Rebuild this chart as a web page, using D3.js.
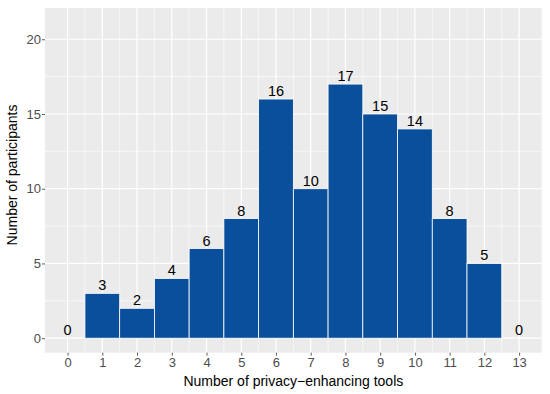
<!DOCTYPE html>
<html>
<head>
<meta charset="utf-8">
<script src="https://cdn.jsdelivr.net/npm/d3@7"></script>
<style>
  body { margin: 0; background: #fff; }
  text { font-family: "Liberation Sans", Arial, sans-serif; }
</style>
</head>
<body>
<div id="chart"></div>
<script>
var toolCounts = [0, 1, 2, 3, 4, 5, 6, 7, 8, 9, 10, 11, 12, 13];
var participants = [0, 3, 2, 4, 6, 8, 16, 10, 17, 15, 14, 8, 5, 0];
var yTicks = [0, 5, 10, 15, 20];
var yMinor = [2.5, 7.5, 12.5, 17.5];

var width = 550,
    height = 394,
    panel = {left: 45, right: 541.7, top: 8, bottom: 352.7};

var svg = d3.select("#chart").append("svg")
    .attr("width", width)
    .attr("height", height);

var x = d3.scaleLinear()
    .domain([-0.65, 13.65])
    .range([panel.left, panel.right]);

var y = d3.scaleLinear()
    .domain([-0.97, 22.09])
    .range([panel.bottom, panel.top]);

// panel background
svg.append("rect")
    .attr("x", panel.left)
    .attr("y", panel.top)
    .attr("width", panel.right - panel.left)
    .attr("height", panel.bottom - panel.top)
    .attr("fill", "#ebebeb");

// minor grid
svg.selectAll("line.ymin")
  .data(yMinor)
  .enter().append("line")
    .attr("x1", panel.left).attr("x2", panel.right)
    .attr("y1", function (d) { return y(d); })
    .attr("y2", function (d) { return y(d); })
    .style("stroke", "#fff").style("stroke-width", 0.6);

svg.selectAll("line.xmin")
  .data(toolCounts.slice(0, -1).map(function (d) { return d + 0.5; }))
  .enter().append("line")
    .attr("y1", panel.top).attr("y2", panel.bottom)
    .attr("x1", function (d) { return x(d); })
    .attr("x2", function (d) { return x(d); })
    .style("stroke", "#fff").style("stroke-width", 0.6);

// major grid
svg.selectAll("line.ymaj")
  .data(yTicks)
  .enter().append("line")
    .attr("x1", panel.left).attr("x2", panel.right)
    .attr("y1", function (d) { return y(d); })
    .attr("y2", function (d) { return y(d); })
    .style("stroke", "#fff").style("stroke-width", 1.2);

svg.selectAll("line.xmaj")
  .data(toolCounts)
  .enter().append("line")
    .attr("y1", panel.top).attr("y2", panel.bottom)
    .attr("x1", function (d) { return x(d); })
    .attr("x2", function (d) { return x(d); })
    .style("stroke", "#fff").style("stroke-width", 1.2);

// bars
svg.selectAll("rect.bar")
  .data(participants)
  .enter().append("rect")
    .attr("class", "bar")
    .attr("x", function (d, i) { return x(toolCounts[i] - 0.5); })
    .attr("width", function (d, i) { return x(toolCounts[i] + 0.5) - x(toolCounts[i] - 0.5); })
    .attr("y", function (d) { return y(d); })
    .attr("height", function (d) { return y(0) - y(d); })
    .attr("fill", "#0a4f9c")
    .attr("stroke", function (d) { return d > 0 ? "#fff" : "none"; })
    .attr("stroke-width", 0.8);

// value labels
svg.selectAll("text.value_label")
  .data(participants)
  .enter().append("text")
    .attr("class", "value_label")
    .attr("text-anchor", "middle")
    .attr("x", function (d, i) { return x(toolCounts[i]); })
    .attr("y", function (d) { return y(d) - 3; })
    .style("font-size", "14.5px")
    .attr("fill", "#000")
    .text(function (d) { return d; });

// axes
var xAxis = svg.append("g")
    .attr("transform", "translate(0," + panel.bottom + ")")
    .call(d3.axisBottom(x).tickValues(toolCounts).tickSize(3).tickPadding(2).tickFormat(d3.format("d")));

var yAxis = svg.append("g")
    .attr("transform", "translate(" + panel.left + ",0)")
    .call(d3.axisLeft(y).tickValues(yTicks).tickSize(3).tickPadding(1));

[xAxis, yAxis].forEach(function (g) {
  g.select(".domain").remove();
  g.selectAll(".tick line").attr("stroke", "#333").attr("stroke-width", 0.8);
  g.selectAll(".tick text")
    .attr("fill", "#4d4d4d")
    .style("font-size", "13px")
    .style("font-family", "'Liberation Sans', Arial, sans-serif");
});

// axis titles
svg.append("text")
    .attr("x", (panel.left + panel.right) / 2)
    .attr("y", 386)
    .attr("text-anchor", "middle")
    .style("font-size", "14px")
    .text("Number of privacy\u2212enhancing tools");

svg.append("text")
    .attr("transform", "translate(17,175) rotate(-90)")
    .attr("text-anchor", "middle")
    .style("font-size", "14px")
    .text("Number of participants");
</script>
</body>
</html>
